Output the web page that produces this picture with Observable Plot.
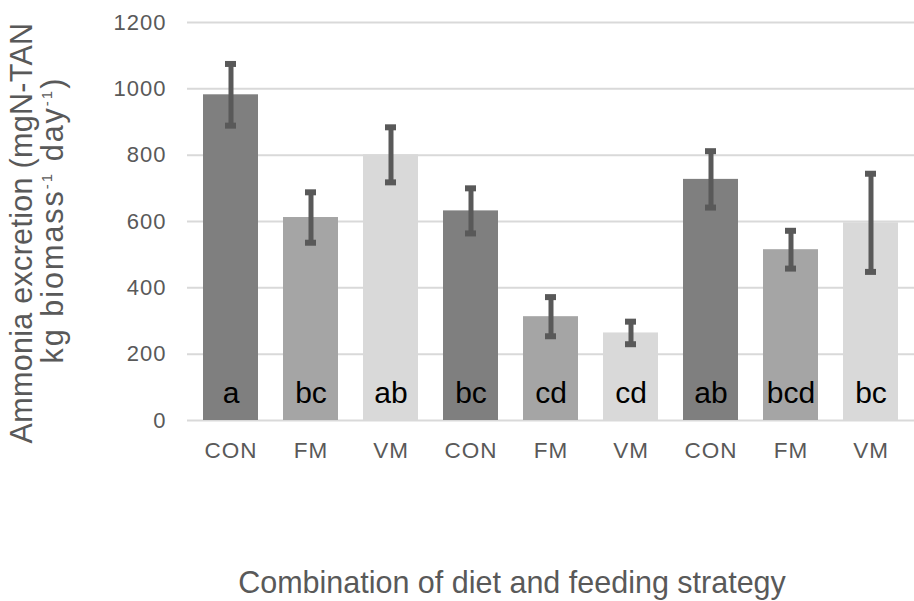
<!DOCTYPE html>
<html>
<head>
<meta charset="utf-8">
<script src="https://cdn.jsdelivr.net/npm/d3@7"></script>
<script src="https://cdn.jsdelivr.net/npm/@observablehq/plot@0.6"></script>
<style>
  html, body { margin: 0; padding: 0; background: #fff; }
  #chart { width: 914px; height: 601px; }
  svg { font-family: "Liberation Sans", Arial, sans-serif; }
</style>
</head>
<body>
<div id="chart"></div>
<script>
// ---- data ----
const categories = ["CON", "FM", "VM", "CON", "FM", "VM", "CON", "FM", "VM"];
const means = [982, 612, 801, 632, 313, 264, 727, 515, 596];
const errors = [93, 76, 83, 68, 59, 34, 85, 57, 148];
const letters = ["a", "bc", "ab", "bc", "cd", "cd", "ab", "bcd", "bc"];
const yTicks = [0, 200, 400, 600, 800, 1000, 1200];
const colorDomain = ["CON", "FM", "VM"];
const colorRange = ["#7f7f7f", "#a5a5a5", "#d9d9d9"];
const xTitle = "Combination of diet and feeding strategy";

const data = categories.map((c, i) => ({
  i, cat: c, mean: means[i], err: errors[i], letter: letters[i],
  lo: means[i] - errors[i], hi: means[i] + errors[i]
}));

const chart = Plot.plot({
  width: 914,
  height: 601,
  marginLeft: 187,
  marginRight: 0,
  marginTop: 22,
  marginBottom: 181,
  style: { fontFamily: "Liberation Sans, Arial, sans-serif", background: "#fff" },
  x: { type: "band", domain: d3.range(categories.length), paddingInner: 0.31, paddingOuter: 0.155, axis: null },
  y: { domain: [0, 1200], axis: null },
  color: { domain: colorDomain, range: colorRange },
  marks: [
    Plot.ruleY(yTicks, { stroke: "#d9d9d9", strokeWidth: 2 }),
    Plot.barY(data, { x: "i", y: "mean", fill: d => d.cat }),
    Plot.ruleX(data, { x: "i", y1: "lo", y2: "hi", stroke: "#595959", strokeWidth: 5 }),
    Plot.tickY(data, { x: "i", y: "hi", stroke: "#595959", strokeWidth: 6, insetLeft: 22, insetRight: 22 }),
    Plot.tickY(data, { x: "i", y: "lo", stroke: "#595959", strokeWidth: 6, insetLeft: 22, insetRight: 22 }),
    Plot.text(data, { x: "i", y: () => 0, text: "letter", fill: "#000", fontSize: 30, lineAnchor: "bottom", dy: -18 }),
    // y tick labels
    Plot.text(yTicks, { y: d => d, text: d => String(d), frameAnchor: "left", textAnchor: "end", dx: -21,
      fontSize: 22, fill: "#595959" }),
    // x tick labels
    Plot.text(data, { x: "i", y: () => 0, text: "cat", lineAnchor: "top", dy: 22,
      fontSize: 22.5, fill: "#595959" })
  ]
});

const svg = d3.select(chart);
svg.selectAll("text").filter(function() { return /^(CON|FM|VM|\d+)$/.test(this.textContent); })
  .style("letter-spacing", "1px");

// x-axis title
svg.append("text")
  .attr("x", 512).attr("y", 593)
  .attr("text-anchor", "middle")
  .style("font-size", "30.5px")
  .attr("fill", "#595959")
  .text(xTitle);

// y-axis title (two lines, rotated)
svg.append("text")
  .attr("transform", "translate(32,233) rotate(-90)")
  .attr("text-anchor", "middle")
  .style("font-size", "30.5px")
  .style("letter-spacing", "0.3px")
  .attr("fill", "#595959")
  .text("Ammonia excretion (mgN-TAN");
const t2 = svg.append("text")
  .attr("transform", "translate(63,220) rotate(-90)")
  .attr("text-anchor", "middle")
  .style("font-size", "30.5px")
  .style("letter-spacing", "2px")
  .attr("fill", "#595959");
t2.append("tspan").text("kg biomass");
t2.append("tspan").style("font-size", "15px").attr("dy", -11).text("-1");
t2.append("tspan").attr("dy", 11).text(" day");
t2.append("tspan").style("font-size", "15px").attr("dy", -11).text("-1");
t2.append("tspan").attr("dy", 11).text(")");

document.getElementById("chart").appendChild(chart);
</script>
</body>
</html>
